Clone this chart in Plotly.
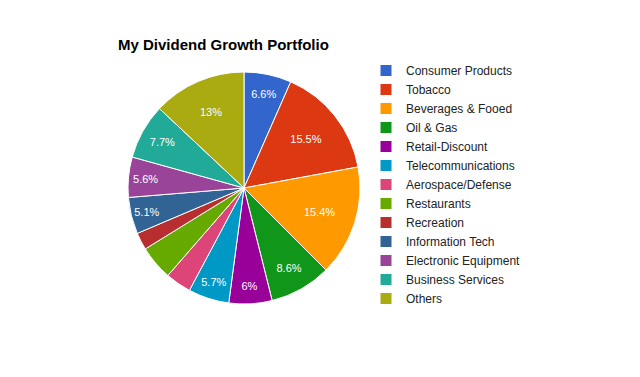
import plotly.graph_objects as go

labels = ["Consumer Products", "Tobacco", "Beverages & Fooed", "Oil & Gas",
          "Retail-Discount", "Telecommunications", "Aerospace/Defense",
          "Restaurants", "Recreation", "Information Tech",
          "Electronic Equipment", "Business Services", "Others"]
values = [6.6, 15.5, 15.4, 8.6, 6.0, 5.7, 3.6, 4.8, 2.4, 5.1, 5.6, 7.7, 13.0]
colors = ["#3366cc", "#dc3912", "#ff9900", "#109618", "#990099", "#0099c6",
          "#dd4477", "#66aa00", "#b82e2e", "#316395", "#994499", "#22aa99", "#aaaa11"]

texts = [f"{v:g}%" if v >= 5 else "" for v in values]

W, H = 640, 377
OFF = 8  # page body margin
cx, cy, r = 244 - OFF, 188 - OFF, 116

fig = go.Figure(go.Pie(
    labels=labels, values=values, sort=False, direction="clockwise", rotation=0,
    marker=dict(colors=colors, line=dict(color="white", width=1)),
    text=texts, textinfo="text", textposition="inside",
    insidetextorientation="horizontal",
    textfont=dict(color="white", size=11, family="Arial, Liberation Sans"),
    hoverinfo="label+percent",
    domain=dict(x=[(cx - r) / W, (cx + r) / W], y=[1 - (cy + r) / H, 1 - (cy - r) / H]),
))

fig.update_layout(
    width=W, height=H,
    margin=dict(l=0, r=0, t=0, b=0),
    paper_bgcolor="white", plot_bgcolor="white",
    font=dict(family="Arial, Liberation Sans", color="#222222"),
    title=dict(text="<b>My Dividend Growth Portfolio</b>", x=(118 - OFF) / W, xanchor="left",
               y=1 - (45 - OFF) / H, yanchor="middle", yref="container",
               font=dict(size=15, color="#000000")),
    legend=dict(x=358 / W, xanchor="left", y=1 - 48 / H, yanchor="top",
                font=dict(size=12, color="#222222"), itemwidth=30,
                tracegroupgap=0, bgcolor="rgba(0,0,0,0)"),
)

fig.write_html("out.html")
